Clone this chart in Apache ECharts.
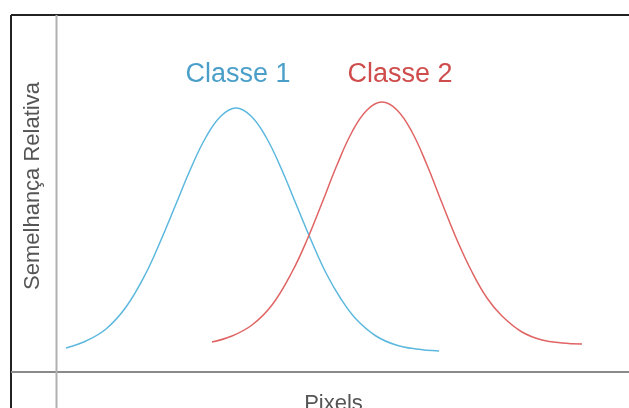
<!DOCTYPE html>
<html>
<head>
<meta charset="utf-8">
<script src="https://cdn.jsdelivr.net/npm/echarts@6/dist/echarts.min.js"></script>
<style>
  html, body { margin: 0; padding: 0; background: #fff; }
  #chart { width: 629px; height: 408px; }
</style>
</head>
<body>
<div id="chart"></div>
<script>
// curve points (x: pixels along axis, y: height above baseline)
const classe1X = [10, 30, 50, 70, 90, 105, 120, 135, 150, 165, 180, 195, 210, 225, 240, 255, 270, 285, 300, 320, 340, 360, 383];
const classe1Y = [24, 31, 43, 65, 99, 132, 168, 204, 235, 256, 264, 256, 235, 204, 168, 132, 99, 73, 53, 36, 27, 23, 21];
const classe2X = [156, 176, 196, 216, 236, 251, 266, 281, 296, 311, 326, 341, 356, 371, 386, 401, 416, 431, 446, 466, 486, 506, 526];
const classe2Y = [30, 36, 47, 67, 100, 132, 169, 207, 240, 262, 270, 262, 240, 207, 169, 132, 100, 74, 56, 40, 32, 29, 28];
const labelNames = ["Classe 1", "Classe 2"];
const labelPos = [[182, 297], [344, 297]];

const chart = echarts.init(document.getElementById("chart"));

function pairs(xs, ys) {
  return xs.map((x, i) => [x, ys[i]]);
}

function nameLabel(i, color) {
  return {
    symbol: "circle",
    symbolSize: 1,
    itemStyle: { color: "rgba(0,0,0,0)" },
    data: [{ coord: labelPos[i], value: labelNames[i] }],
    label: {
      show: true,
      position: "inside",
      formatter: "{c}",
      color: color,
      fontSize: 27,
      fontFamily: "Liberation Sans",
    },
  };
}

const option = {
  animation: false,
  grid: { left: 56, right: 0, top: 0, bottom: 36, outerBoundsMode: "none", containLabel: false },
  xAxis: {
    type: "value",
    min: 0,
    max: 573,
    name: "Pixels",
    nameLocation: "middle",
    nameGap: 21,
    nameTextStyle: {
      fontFamily: "Liberation Sans",
      fontSize: 22,
      color: "#555",
      padding: [0, 18, 0, 0],
    },
    axisLine: { show: false },
    axisTick: { show: false },
    axisLabel: { show: false },
    splitLine: { show: false },
  },
  yAxis: {
    type: "value",
    min: 0,
    max: 372,
    name: "Semelhança Relativa",
    nameLocation: "middle",
    nameGap: 12,
    nameTextStyle: {
      fontFamily: "Liberation Sans",
      fontSize: 22,
      color: "#555",
    },
    axisLine: { show: false },
    axisTick: { show: false },
    axisLabel: { show: false },
    splitLine: { show: false },
  },
  graphic: [
    // outer frame (top and left)
    { type: "line", shape: { x1: 11, y1: 15, x2: 629, y2: 15 }, style: { stroke: "#222", lineWidth: 2 } },
    { type: "line", shape: { x1: 11, y1: 15, x2: 11, y2: 408 }, style: { stroke: "#222", lineWidth: 2 } },
    // crossing axes
    { type: "line", shape: { x1: 11, y1: 372, x2: 629, y2: 372 }, style: { stroke: "#8a8a8a", lineWidth: 2 } },
    { type: "line", shape: { x1: 56.5, y1: 15, x2: 56.5, y2: 408 }, style: { stroke: "#b0b0b0", lineWidth: 2 } },
  ],
  series: [
    {
      name: labelNames[0],
      type: "line",
      smooth: 0.4,
      showSymbol: false,
      data: pairs(classe1X, classe1Y),
      lineStyle: { color: "#5cb8de", width: 1.5 },
      markPoint: nameLabel(0, "#4a9fc9"),
    },
    {
      name: labelNames[1],
      type: "line",
      smooth: 0.4,
      showSymbol: false,
      data: pairs(classe2X, classe2Y),
      lineStyle: { color: "#e06464", width: 1.5 },
      markPoint: nameLabel(1, "#cf4c4c"),
    },
  ],
};

chart.setOption(option);
window.addEventListener("resize", () => chart.resize());
</script>
</body>
</html>
